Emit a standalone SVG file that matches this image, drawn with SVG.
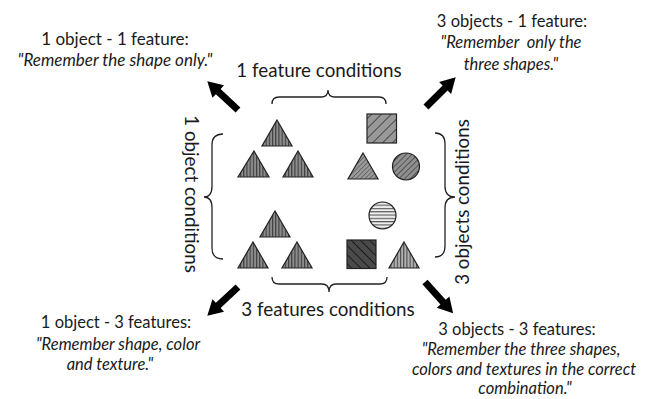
<svg xmlns="http://www.w3.org/2000/svg" width="653" height="399" viewBox="0 0 653 399">
<style>
.lbl{font-family:Lato,"Open Sans","Liberation Sans",sans-serif;fill:#1a1a1a;text-anchor:middle}
.t{font-size:16.5px}
.q{font-size:16.5px;font-style:italic}
.tl{font-size:17px}
.c{font-size:18.8px}
.br{fill:none;stroke:#222;stroke-width:1.3}
.sh{stroke:#222;stroke-width:1.2}
.arr{fill:#000}
</style>
<defs>
<pattern id="pv" width="3.2" height="10" patternUnits="userSpaceOnUse"><rect width="3.2" height="10" fill="#8c8c8c"/><line x1="0.6" y1="0" x2="0.6" y2="10" stroke="#2a2a2a" stroke-width="0.9"/></pattern>
<pattern id="pvl" width="3.2" height="10" patternUnits="userSpaceOnUse"><rect width="3.2" height="10" fill="#b0b0b0"/><line x1="0.6" y1="0" x2="0.6" y2="10" stroke="#333" stroke-width="0.9"/></pattern>
<pattern id="pd6" width="7" height="7" patternUnits="userSpaceOnUse" patternTransform="rotate(45)"><rect width="7" height="7" fill="#999"/><line x1="0" y1="0" x2="0" y2="7" stroke="#222" stroke-width="1.4"/></pattern>
<pattern id="pd3" width="3.2" height="5" patternUnits="userSpaceOnUse" patternTransform="rotate(45)"><rect width="3.2" height="5" fill="#9a9a9a"/><line x1="0" y1="0" x2="0" y2="5" stroke="#333" stroke-width="0.9"/></pattern>
<pattern id="pd4" width="4" height="5" patternUnits="userSpaceOnUse" patternTransform="rotate(45)"><rect width="4" height="5" fill="#909090"/><line x1="0" y1="0" x2="0" y2="5" stroke="#222" stroke-width="1.1"/></pattern>
<pattern id="ph" width="10" height="3.3" patternUnits="userSpaceOnUse"><rect width="10" height="3.3" fill="#eee"/><line x1="0" y1="0.6" x2="10" y2="0.6" stroke="#444" stroke-width="1"/></pattern>
<pattern id="pdk" width="6.5" height="6.5" patternUnits="userSpaceOnUse" patternTransform="rotate(-45)"><rect width="6.5" height="6.5" fill="#4a4a4a"/><line x1="0" y1="0" x2="0" y2="6.5" stroke="#111" stroke-width="1.6"/></pattern>
<polygon id="arrow" points="0,-3.5 27,-3.5 27,-8.5 42,0 27,8.5 27,3.5 0,3.5"/>
</defs>

<g id="connectors">
<use href="#arrow" class="arr" transform="translate(238,110) rotate(-137)"/>
<use href="#arrow" class="arr" transform="translate(426,107) rotate(-45)"/>
<use href="#arrow" class="arr" transform="translate(238,287) rotate(137)"/>
<use href="#arrow" class="arr" transform="translate(425,282) rotate(48)"/>
<path class="br" d="M272,104 Q272,97 279,97 L321,97 Q328,97 328,90 Q328,97 335,97 L379,97 Q386,97 386,104"/>
<path class="br" d="M272,277 Q272,284 279,284 L322,284 Q329,284 329,292 Q329,284 336,284 L380,284 Q387,284 387,277"/>
<path class="br" d="M223,134 Q212,134 212,145 L212,186 Q212,197 204,197 Q212,197 212,208 L212,248 Q212,259 223,259"/>
<path class="br" d="M435,133 Q445,133 445,144 L445,186 Q445,197 455,197 Q445,197 445,208 L445,246 Q445,257 435,257"/>
</g>

<g id="label-1o1f">
<text class="lbl tl" x="115" y="45">1 object - 1 feature:</text>
<text class="lbl tl" font-style="italic" x="115" y="66">"Remember the shape only."</text>
</g>
<g id="label-3o1f">
<text class="lbl t" x="512" y="27">3 objects - 1 feature:</text>
<text class="lbl q" x="511" y="48" xml:space="preserve">"Remember  only the</text>
<text class="lbl q" x="511" y="70">three shapes."</text>
</g>
<g id="label-1o3f">
<text class="lbl t" x="116" y="328">1 object - 3 features:</text>
<text class="lbl q" x="118" y="350">"Remember shape, color</text>
<text class="lbl q" x="110" y="370">and texture."</text>
</g>
<g id="label-3o3f">
<text class="lbl t" x="517" y="335">3 objects - 3 features:</text>
<text class="lbl q" x="521" y="355">"Remember the three shapes,</text>
<text class="lbl q" x="524" y="375">colors and textures in the correct</text>
<text class="lbl q" x="525" y="394">combination."</text>
</g>
<g id="label-top"><text class="lbl c" x="319" y="77">1 feature conditions</text></g>
<g id="label-bottom"><text class="lbl c" x="328" y="316">3 features conditions</text></g>
<g id="label-left"><text class="lbl c" transform="translate(185,194) rotate(90)">1 object conditions</text></g>
<g id="label-right"><text class="lbl c" transform="translate(469,202) rotate(-90)">3 objects conditions</text></g>

<g id="group-1o1f">
<polygon class="sh" fill="url(#pv)" points="277,120 292,146 262,146"/>
<polygon class="sh" fill="url(#pv)" points="254,151 269,177 238,177"/>
<polygon class="sh" fill="url(#pv)" points="298,151 313,177 283,177"/>
</g>
<g id="group-3o1f">
<rect class="sh" fill="url(#pd6)" x="367" y="114" width="29.5" height="29"/>
<polygon class="sh" fill="url(#pd3)" points="363,153 378,179 348,179"/>
<circle class="sh" fill="url(#pd4)" cx="406" cy="166.5" r="13.5"/>
</g>
<g id="group-1o3f">
<polygon class="sh" fill="url(#pv)" points="275,211 290,237 260,237"/>
<polygon class="sh" fill="url(#pv)" points="253,242 268,268 238,268"/>
<polygon class="sh" fill="url(#pv)" points="297,242 312,268 282,268"/>
</g>
<g id="group-3o3f">
<circle class="sh" fill="url(#ph)" cx="382.5" cy="215.5" r="13.5"/>
<rect class="sh" fill="url(#pdk)" x="347" y="240" width="29" height="28.5"/>
<polygon class="sh" fill="url(#pvl)" points="404,242 419,268 389,268"/>
</g>
</svg>
